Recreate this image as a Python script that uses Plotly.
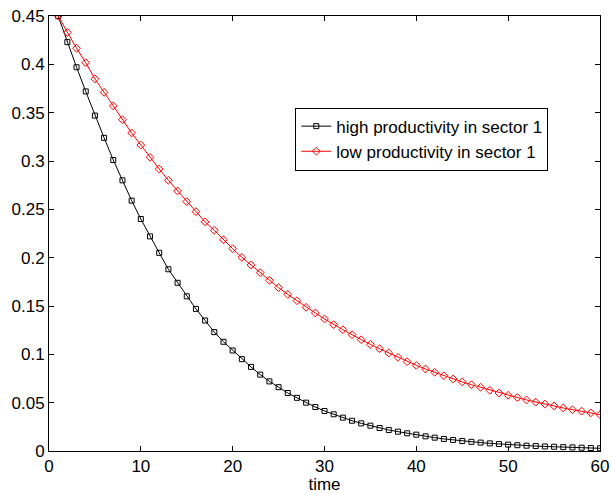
import plotly.graph_objects as go

time = list(range(1, 61))
high_prod = [0.450, 0.423, 0.397, 0.372, 0.347, 0.324, 0.301, 0.280, 0.259, 0.240,
             0.222, 0.205, 0.188, 0.174, 0.160, 0.147, 0.135, 0.123, 0.113, 0.104,
             0.095, 0.087, 0.079, 0.072, 0.066, 0.060, 0.055, 0.050, 0.0455, 0.0414,
             0.038, 0.0345, 0.0313, 0.0286, 0.0262, 0.0238, 0.0217, 0.0200, 0.0183, 0.0169,
             0.0152, 0.0138, 0.0125, 0.0114, 0.0103, 0.0095, 0.0087, 0.0079, 0.0072, 0.0066,
             0.0060, 0.0055, 0.0051, 0.0047, 0.0044, 0.0040, 0.0037, 0.0034, 0.0031, 0.0028]
low_prod = [0.450, 0.433, 0.4166, 0.4017, 0.385, 0.371, 0.357, 0.3427, 0.329, 0.3165,
            0.3038, 0.2917, 0.280, 0.269, 0.258, 0.2476, 0.237, 0.2283, 0.2185, 0.2093,
            0.2003, 0.1924, 0.1845, 0.1766, 0.169, 0.162, 0.1555, 0.1486, 0.1428, 0.1366,
            0.1307, 0.1255, 0.1203, 0.1151, 0.1103, 0.1058, 0.1014, 0.0969, 0.0924, 0.0886,
            0.0848, 0.0814, 0.0779, 0.0745, 0.0714, 0.0686, 0.0659, 0.0628, 0.0600, 0.0576,
            0.0553, 0.0528, 0.0505, 0.0486, 0.0466, 0.0445, 0.0427, 0.0412, 0.0395, 0.0376]

x_ticks = [0, 10, 20, 30, 40, 50, 60]
y_ticks = [0, 0.05, 0.1, 0.15, 0.2, 0.25, 0.3, 0.35, 0.4, 0.45]
y_tick_labels = ["0", "0.05", "0.1", "0.15", "0.2", "0.25", "0.3", "0.35", "0.4", "0.45"]

FONT = "Liberation Sans, Arial, Helvetica, sans-serif"

fig = go.Figure()
fig.add_trace(go.Scatter(
    x=time, y=high_prod, mode="lines+markers", name="high productivity in sector 1",
    line=dict(color="black", width=1),
    marker=dict(symbol="square-open", size=5, color="black", line=dict(width=1)),
))
fig.add_trace(go.Scatter(
    x=time, y=low_prod, mode="lines+markers", name="low productivity in sector 1",
    line=dict(color="red", width=1),
    marker=dict(symbol="diamond-open", size=6, color="red", line=dict(width=1)),
))

axis_common = dict(
    showline=True, linecolor="black", linewidth=1, mirror="ticks",
    ticks="inside", ticklen=5, tickcolor="black", showgrid=False, zeroline=False,
    automargin=False,
    tickfont=dict(family=FONT, size=17, color="black"),
)

fig.update_layout(
    width=612, height=494,
    margin=dict(l=49, r=12, t=16, b=43, autoexpand=False),
    paper_bgcolor="white", plot_bgcolor="white",
    font=dict(family=FONT, size=17, color="black"),
    xaxis=dict(range=[0, 60], tickvals=x_ticks,
               title=dict(text="time", standoff=2, font=dict(family=FONT, size=17)),
               **axis_common),
    yaxis=dict(range=[0, 0.45], tickvals=y_ticks, ticktext=y_tick_labels, **axis_common),
    legend=dict(x=0.447, y=0.717, xanchor="left", yanchor="middle",
                bordercolor="black", borderwidth=1, bgcolor="white",
                font=dict(family=FONT, size=17), tracegroupgap=0, itemwidth=30),
    showlegend=True,
)

fig.write_html("out.html", config={"displayModeBar": False},
               post_script="document.body.style.margin='0';document.body.style.padding='0';")
